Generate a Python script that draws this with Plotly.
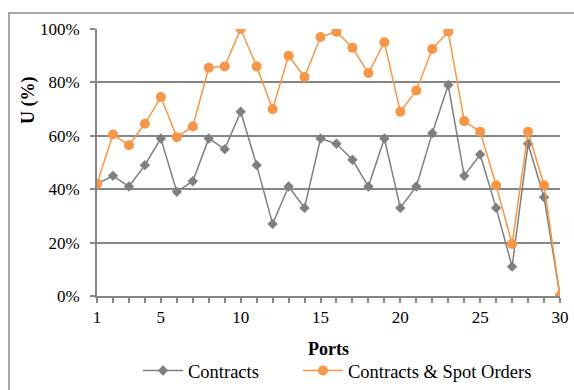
import plotly.graph_objects as go

ports = list(range(1, 31))
contracts = [42, 45, 41, 49, 59, 39, 43, 59, 55, 69, 49, 27, 41, 33, 59, 57, 51, 41, 59, 33,
             41, 61, 79, 45, 53, 33, 11, 57, 37, 0]
contracts_spot = [42, 60.5, 56.5, 64.5, 74.5, 59.5, 63.5, 85.5, 86, 100, 86, 70, 90, 82, 97, 99,
                  93, 83.5, 95, 69, 77, 92.5, 99, 65.5, 61.5, 41.5, 19.5, 61.5, 41.5, 0]
x_labels = {1: "1", 5: "5", 10: "10", 15: "15", 20: "20", 25: "25", 30: "30"}
y_ticks = [0, 20, 40, 60, 80, 100]

GRAY = "#7f7f7f"
ORANGE = "#f79646"
AXIS = "#868686"
FONT = "Liberation Serif"

fig = go.Figure()
fig.add_trace(go.Scatter(
    x=ports, y=contracts, name="Contracts", mode="lines+markers",
    line=dict(color=GRAY, width=1.5),
    marker=dict(symbol="diamond", size=8, color=GRAY),
    legend="legend",
))
fig.add_trace(go.Scatter(
    x=ports, y=contracts_spot, name="Contracts & Spot Orders", mode="lines+markers",
    line=dict(color=ORANGE, width=1.5),
    marker=dict(symbol="circle", size=10, color=ORANGE),
    legend="legend2",
))

L, R, T, B = 97, 14, 29, 94
W, H = 574, 390
pw, ph = W - L - R, H - T - B

def px_x(px):
    return (px - L) / pw

def px_y(py):
    return (H - B - py) / ph

legend_common = dict(
    orientation="h", xanchor="left", y=px_y(390), yanchor="bottom",
    font=dict(family=FONT, size=18.5), itemwidth=40,
    bgcolor="rgba(0,0,0,0)",
)

fig.update_layout(
    width=W, height=H,
    margin=dict(l=L, r=R, t=T, b=B, autoexpand=False),
    paper_bgcolor="white", plot_bgcolor="white",
    font=dict(family=FONT, size=17, color="black"),
    showlegend=True,
    legend=dict(x=px_x(138), **legend_common),
    legend2=dict(x=px_x(298), **legend_common),
    xaxis=dict(
        range=[1, 30], tickvals=ports,
        ticktext=[x_labels.get(p, "") for p in ports],
        ticks="outside", ticklen=5, tickcolor=AXIS, tickwidth=1.5,
        showline=True, linecolor=AXIS, linewidth=2,
        showgrid=False, zeroline=False, automargin=False,
        tickfont=dict(family=FONT, size=17),
        title=dict(text="<b>Ports</b>", font=dict(family=FONT, size=18), standoff=16),
    ),
    yaxis=dict(
        range=[0, 100], tickvals=y_ticks, ticktext=[f"{v}%" for v in y_ticks],
        ticks="outside", ticklen=5, tickcolor=AXIS, tickwidth=2,
        showline=True, linecolor=AXIS, linewidth=2,
        showgrid=True, gridcolor=AXIS, gridwidth=2,
        zeroline=False, ticklabelstandoff=7, automargin=False,
        tickfont=dict(family=FONT, size=17),
    ),
    annotations=[dict(
        text="<b>U (%)</b>", textangle=-90, xref="paper", yref="paper",
        x=px_x(28), y=px_y(100), xanchor="center", yanchor="middle",
        showarrow=False, font=dict(family=FONT, size=18),
    )],
    shapes=[dict(
        type="rect", xref="paper", yref="paper",
        x0=px_x(9), x1=px_x(590), y0=px_y(13), y1=px_y(400),
        line=dict(color="#8c8c8c", width=1.5), layer="below",
    )],
)

fig.write_html("out.html")
